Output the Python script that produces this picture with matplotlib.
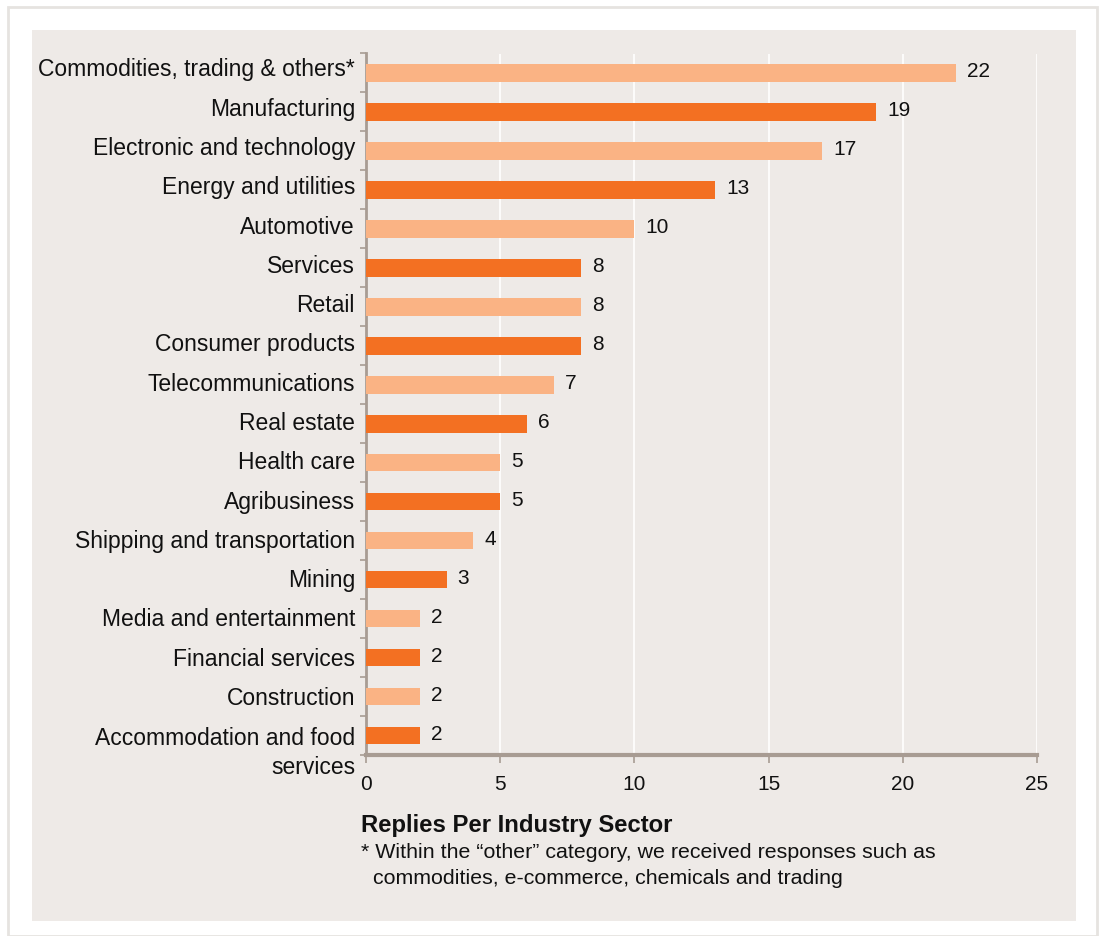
import matplotlib.pyplot as plt
from matplotlib.patches import Rectangle
from matplotlib.ticker import MultipleLocator
import numpy as np

plt.rcParams['font.family'] = ['Liberation Sans', 'DejaVu Sans']

sectors = ['Commodities, trading & others*', 'Manufacturing', 'Electronic and technology',
           'Energy and utilities', 'Automotive', 'Services', 'Retail', 'Consumer products',
           'Telecommunications', 'Real estate', 'Health care', 'Agribusiness',
           'Shipping and transportation', 'Mining', 'Media and entertainment',
           'Financial services', 'Construction', 'Accommodation and food\nservices']
replies = [22, 19, 17, 13, 10, 8, 8, 8, 7, 6, 5, 5, 4, 3, 2, 2, 2, 2]

light = '#FAB384'
dark = '#F37022'
panel = '#EEEAE7'
axis_col = '#A89C93'
ink = '#111111'

W, H = 1104, 937
fig = plt.figure(figsize=(W / 100, H / 100), dpi=100)
fig.patch.set_facecolor('white')

# outer frame and grey panel
fig.patches.append(Rectangle((8 / W, 0), 1089 / W, 1 - 8 / H, transform=fig.transFigure,
                             facecolor='white', edgecolor='#E6E3E0', linewidth=2, zorder=-10))
fig.patches.append(Rectangle((32 / W, 1 - 922 / H), 1044 / W, 891 / H, transform=fig.transFigure,
                             facecolor=panel, edgecolor='none', zorder=-9))

ax = fig.add_axes([366 / W, 1 - 756 / H, 671 / W, 701.5 / H])
ax.set_facecolor('none')

n = len(sectors)
y = np.arange(n)
colors = [light if i % 2 == 0 else dark for i in range(n)]
ax.barh(y, replies, height=0.45, color=colors, zorder=3)

# value labels just right of each bar
for yi, v in zip(y, replies):
    ax.annotate(str(v), xy=(v, yi), xytext=(11, 2), textcoords='offset pixels',
                va='center', ha='left', fontsize=15, color=ink)

ax.set_xlim(0, 25)
ax.set_ylim(n - 0.5, -0.5)
ax.xaxis.set_major_locator(MultipleLocator(5))
ax.grid(axis='x', color='white', linewidth=1.2, zorder=1)

# category labels drawn by hand so the two-line one can hang below its bar
ax.set_yticks(y)
ax.set_yticklabels([])
ax.tick_params(axis='y', length=0)
ax.set_yticks(np.arange(n + 1) - 0.5, minor=True)
ax.tick_params(axis='y', which='minor', length=4, width=1.2, color=axis_col)
for i, name in enumerate(sectors[:-1]):
    lift = -1 + 5 * (n - 2 - i) / (n - 2)
    ax.annotate(name, xy=(0, y[i]), xycoords=('axes fraction', 'data'),
                xytext=(-11, lift), textcoords='offset pixels', ha='right', va='center',
                fontsize=16.5, color=ink)
ax.annotate(sectors[-1], xy=(0, y[-1]), xycoords=('axes fraction', 'data'),
            xytext=(-11, 9.5), textcoords='offset pixels', ha='right', va='top',
            fontsize=16.5, color=ink, linespacing=1.36)

ax.tick_params(axis='x', length=6, width=1.2, color=axis_col, labelsize=15,
               labelcolor=ink, pad=8)

for side in ('top', 'right'):
    ax.spines[side].set_visible(False)
ax.spines['left'].set_color(axis_col)
ax.spines['left'].set_linewidth(2)
ax.spines['bottom'].set_color(axis_col)
ax.spines['bottom'].set_linewidth(3)

fig.text(361 / W, 1 - 826 / H, 'Replies Per Industry Sector', fontsize=17.2,
         fontweight='bold', va='center', ha='left', color=ink)
fig.text(361 / W, 1 - 853 / H, '* Within the \u201cother\u201d category, we received responses such as',
         fontsize=15.4, va='center', ha='left', color=ink)
fig.text(373 / W, 1 - 879 / H, 'commodities, e-commerce, chemicals and trading',
         fontsize=15.4, va='center', ha='left', color=ink)

fig.savefig('out.png', dpi=100)
